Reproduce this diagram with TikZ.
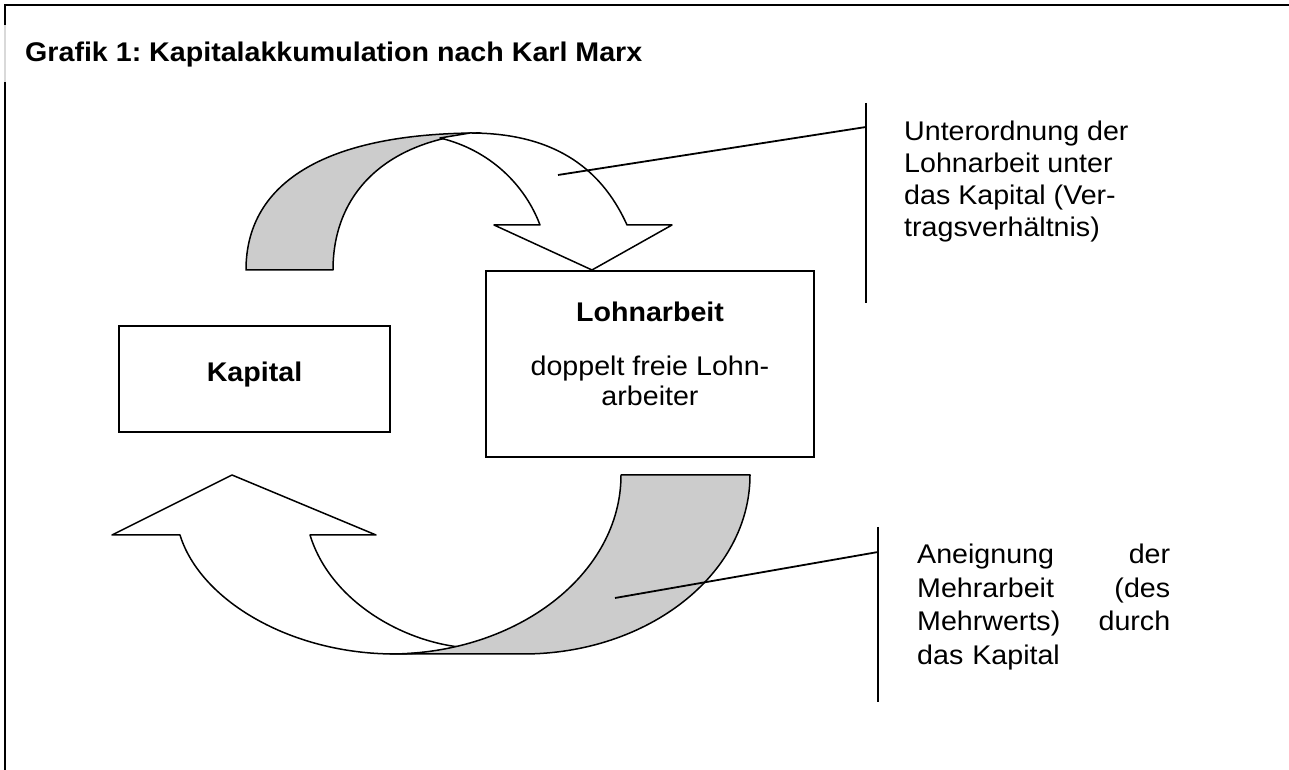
\documentclass[tikz,border=0pt]{standalone}
\usepackage{fontspec}
\setmainfont{Liberation Sans}[FakeStretch=1.06]
\usepackage{tikz}
\usetikzlibrary{positioning}
\frenchspacing

\begin{document}
\begin{tikzpicture}[x=1pt,y=1pt,
  box/.style={draw,line width=1.8pt,inner sep=0pt},
  backband/.style={fill=black!20,draw,line width=1.5pt,line join=round},
  frontband/.style={fill=white,draw,line width=1.5pt,line join=round},
  callout/.style={line width=1.8pt},
  txt/.style={inner sep=0pt,font=\fontsize{27}{32}\selectfont}]
\useasboundingbox (0,0) rectangle (1289,770);
\draw[line width=2.5pt] (5,0) -- (5,688);
\draw[line width=2.5pt,black!15] (5,688) -- (5,745);
\draw[line width=2.5pt] (5,745) -- (5,765) -- (1289,765);
\node[txt,anchor=base west,font=\fontsize{27}{31}\selectfont\bfseries] (title) at (25,708)
  {Grafik 1: Kapitalakkumulation nach Karl Marx};
\node[box,minimum width=271pt,minimum height=106pt,
  font=\fontsize{27}{31}\selectfont\bfseries,text height=20pt,text depth=14pt] (kapital) at (254.5,391) {Kapital};
\node[box,minimum width=328pt,minimum height=186pt] (lohn) at (650,406) {};
\node[txt,anchor=north,align=center,font=\fontsize{27}{30}\selectfont,below=32pt of lohn.north] (lohntext)
  {{\bfseries Lohnarbeit}\\[24pt]doppelt freie Lohn-\\arbeiter};
\draw[backband] (246,500) .. controls (246,590) and (330,637) .. (480,637)
  .. controls (390,630) and (333,580) .. (333,500) -- cycle;
\draw[frontband] (440,632) .. controls (490,620) and (525,585) .. (540,545)
  -- (494,545) -- (592,500) -- (672,545) -- (627,545)
  .. controls (600,605) and (550,637) .. (470,637) -- cycle;
\draw[frontband] (180,235) .. controls (200,170) and (290,116) .. (395,116)
  .. controls (420,116) and (440,119) .. (459,123)
  .. controls (400,130) and (330,170) .. (310,235)
  -- (376,235) -- (232,295) -- (112,235) -- cycle;
\draw[backband] (750,295) arc[start angle=0,end angle=-90,x radius=227,y radius=179]
  -- (390,116) arc[start angle=-90,end angle=0,x radius=231,y radius=179] -- cycle;
\coordinate (barAtop) at (866,667);
\coordinate (barAbot) at (866,467);
\coordinate (barA) at (866,643);
\coordinate (pinA) at (558,595);
\draw[callout] (barAtop) -- (barAbot);
\draw[callout] (pinA) -- (barA);
\coordinate (barBtop) at (878,243);
\coordinate (barBbot) at (878,68);
\coordinate (barB) at (878,218);
\coordinate (pinB) at (615,172);
\draw[callout] (barBtop) -- (barBbot);
\draw[callout] (pinB) -- (barB);
\node[txt,anchor=north west,align=left] (notea) at (904,649)
  {Unterordnung der\\Lohnarbeit unter\\das Kapital (Ver-\\tragsverhältnis)};
\node[txt,anchor=north west,text width=253pt,align=left,font=\fontsize{27}{33.5}\selectfont] (noteb) at (917,226)
  {Aneignung\hfill der\\Mehrarbeit\hfill (des\\Mehrwerts)\hfill durch\\das Kapital};
\end{tikzpicture}
\end{document}
